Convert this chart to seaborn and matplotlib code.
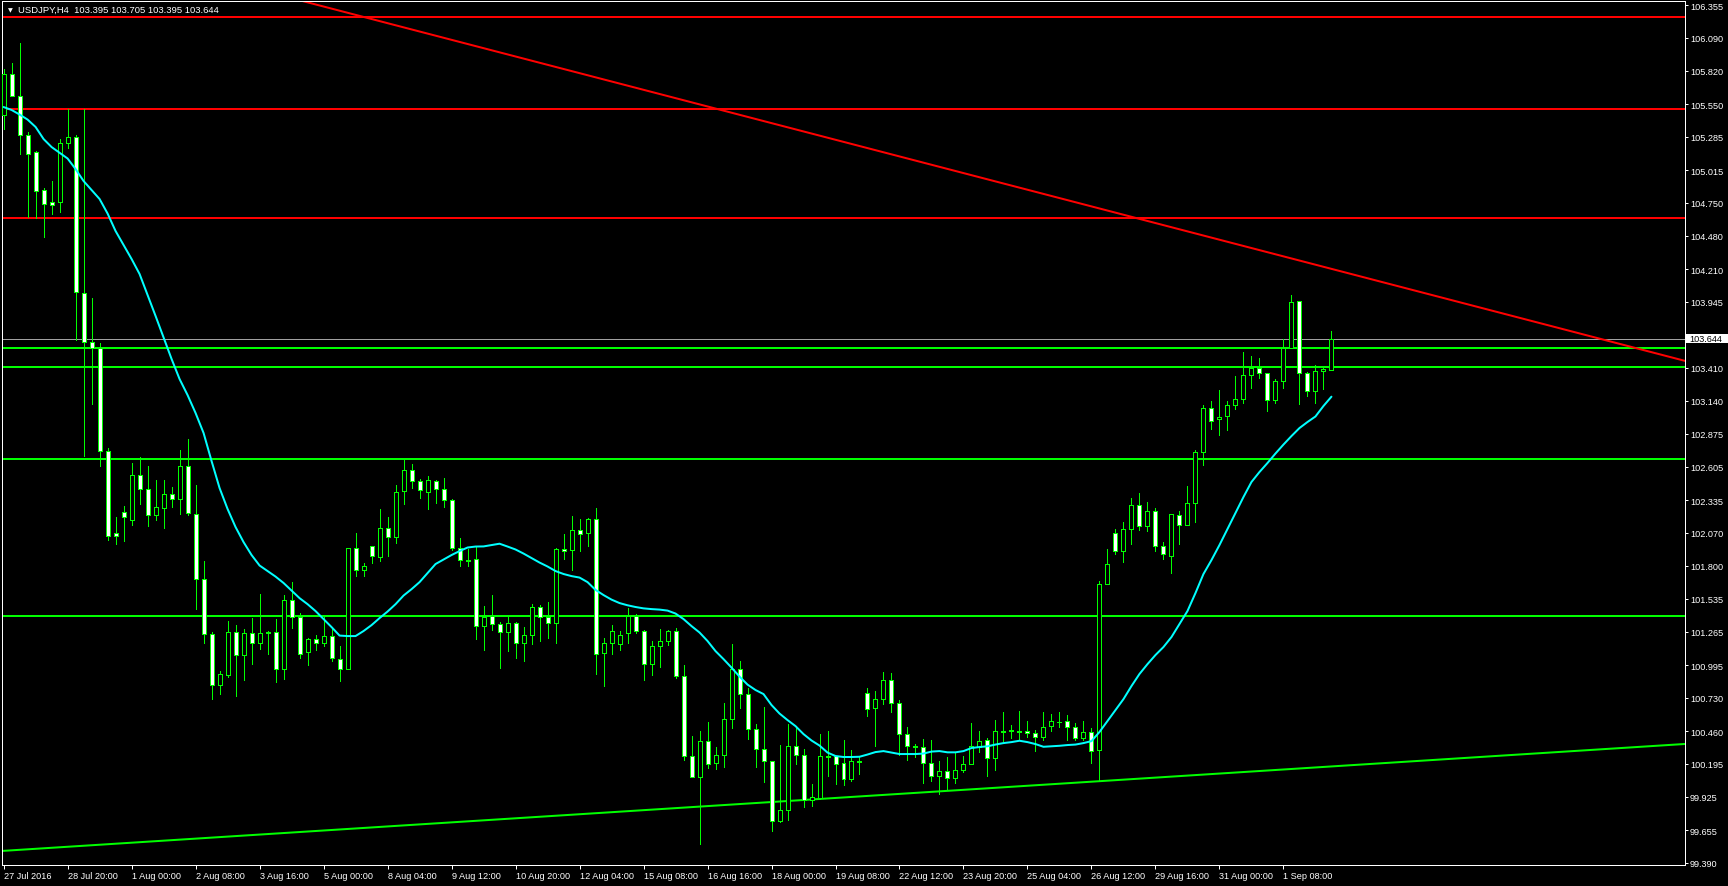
import matplotlib
matplotlib.use("Agg")
import matplotlib.pyplot as plt
import matplotlib.transforms as mtransforms
from matplotlib.patches import Rectangle
import numpy as np
import pandas as pd
import seaborn as sns

# ---------------- data ----------------
symbol = "USDJPY,H4"
last_ohlc = [103.395, 103.705, 103.395, 103.644]

opens = [105.465, 105.793, 105.614, 105.299, 105.160, 104.850, 104.753, 104.758, 105.233, 105.282,
         104.014, 103.616, 103.570, 102.731, 102.065, 102.236, 102.176, 102.536, 102.423, 102.212,
         102.268, 102.382, 102.342, 102.609, 102.220, 101.691, 101.244, 100.835, 100.914, 101.261,
         101.079, 101.253, 101.172, 101.261, 101.261, 100.962, 101.520, 101.382, 101.098, 101.204,
         101.172, 101.228, 101.042, 100.962, 101.943, 101.764, 101.959, 101.870, 102.107, 102.034,
         102.406, 102.577, 102.488, 102.403, 102.488, 102.423, 102.333, 101.948, 101.846, 101.855,
         101.309, 101.390, 101.325, 101.261, 101.334, 101.172, 101.236, 101.463, 101.382, 101.334,
         101.935, 101.927, 102.089, 102.065, 102.179, 101.090, 101.172, 101.164, 101.253, 101.390,
         101.269, 101.001, 101.147, 101.188, 101.269, 100.904, 100.254, 100.083, 100.376, 100.198,
         100.263, 100.555, 100.962, 100.759, 100.474, 100.312, 100.214, 99.726, 99.815, 100.336,
         100.263, 99.901, 99.918, 100.254, 100.254, 100.198, 100.067, 100.211, 100.765, 100.643,
         100.724, 100.871, 100.684, 100.433, 100.336, 100.328, 100.198, 100.092, 100.132, 100.075,
         100.140, 100.189, 100.328, 100.384, 100.238, 100.457, 100.457, 100.457, 100.457, 100.441,
         100.409, 100.498, 100.535, 100.539, 100.490, 100.401, 100.449, 100.302, 101.651, 102.066,
         101.923, 102.104, 102.299, 102.127, 102.245, 101.963, 101.881, 102.212, 102.135, 102.308,
         102.722, 103.079, 102.991, 103.017, 103.104, 103.154, 103.348, 103.406, 103.364, 103.148,
         103.299, 103.573, 103.949, 103.364, 103.225, 103.380, 103.395]

highs = [105.836, 105.884, 106.047, 105.324, 105.170, 104.869, 104.926, 105.268, 105.511, 105.300,
         105.511, 103.976, 103.611, 102.758, 102.198, 102.287, 102.636, 102.682, 102.611, 102.500,
         102.498, 102.441, 102.742, 102.831, 102.458, 101.837, 101.268, 100.949, 101.353, 101.320,
         101.288, 101.377, 101.572, 101.274, 101.369, 101.563, 101.667, 101.415, 101.214, 101.239,
         101.382, 101.304, 101.149, 101.943, 102.068, 101.823, 101.959, 102.263, 102.195, 102.458,
         102.661, 102.628, 102.506, 102.531, 102.496, 102.515, 102.344, 102.027, 101.937, 101.955,
         101.477, 101.563, 101.342, 101.382, 101.347, 101.301, 101.488, 101.480, 101.504, 101.943,
         102.057, 102.203, 102.179, 102.187, 102.268, 101.212, 101.318, 101.269, 101.455, 101.407,
         101.277, 101.188, 101.285, 101.277, 101.293, 100.994, 100.417, 100.457, 100.530, 100.328,
         100.685, 101.164, 101.025, 100.808, 100.515, 100.653, 100.214, 100.344, 100.515, 100.498,
         100.312, 100.026, 100.433, 100.457, 100.254, 100.384, 100.303, 100.254, 100.808, 100.782,
         100.936, 100.930, 100.708, 100.490, 100.352, 100.393, 100.384, 100.214, 100.246, 100.279,
         100.254, 100.523, 100.457, 100.401, 100.547, 100.612, 100.506, 100.620, 100.539, 100.465,
         100.612, 100.595, 100.612, 100.587, 100.523, 100.539, 100.482, 101.679, 101.942, 102.099,
         102.159, 102.352, 102.393, 102.318, 102.269, 101.994, 102.220, 102.245, 102.450, 102.742,
         103.104, 103.136, 103.230, 103.136, 103.340, 103.537, 103.504, 103.488, 103.364, 103.315,
         103.644, 104.000, 103.949, 103.372, 103.430, 103.406, 103.705]

lows = [105.348, 105.624, 105.145, 104.636, 104.622, 104.474, 104.660, 104.677, 105.194, 103.637,
        102.695, 103.115, 102.614, 102.014, 101.975, 102.006, 102.135, 102.306, 102.127, 102.176,
        102.111, 102.281, 102.226, 102.218, 101.450, 101.176, 100.719, 100.762, 100.900, 100.746,
        100.876, 101.003, 101.125, 101.084, 100.860, 100.882, 101.296, 101.049, 100.998, 101.117,
        101.150, 101.025, 100.868, 100.962, 101.721, 101.716, 101.821, 101.837, 101.884, 101.990,
        102.306, 102.431, 102.355, 102.266, 102.314, 102.281, 101.932, 101.796, 101.796, 101.206,
        101.117, 101.277, 100.970, 101.109, 101.049, 101.025, 101.163, 101.188, 101.214, 101.172,
        101.855, 101.770, 101.919, 101.965, 100.920, 100.827, 101.082, 101.117, 101.172, 101.253,
        100.871, 100.917, 100.982, 101.156, 100.887, 100.226, 100.083, 99.539, 100.157, 100.149,
        100.165, 100.482, 100.645, 100.393, 100.165, 100.043, 99.645, 99.718, 99.734, 100.189,
        99.844, 99.853, 99.909, 100.096, 100.033, 100.023, 100.056, 100.115, 100.583, 100.336,
        100.676, 100.611, 100.263, 100.222, 100.246, 100.034, 100.056, 99.945, 99.978, 100.040,
        100.124, 100.189, 100.287, 100.092, 100.145, 100.376, 100.405, 100.384, 100.413, 100.299,
        100.384, 100.457, 100.490, 100.384, 100.384, 100.384, 100.198, 100.061, 101.651, 101.898,
        101.829, 101.982, 102.093, 102.085, 101.921, 101.857, 101.743, 101.982, 102.135, 102.159,
        102.618, 102.915, 102.860, 102.906, 103.076, 103.124, 103.249, 103.329, 103.055, 103.120,
        103.243, 103.573, 103.118, 103.184, 103.126, 103.238, 103.395]

closes = [105.793, 105.614, 105.296, 105.148, 104.849, 104.737, 104.735, 105.233, 105.282, 104.022,
          103.616, 103.570, 102.731, 102.046, 102.046, 102.195, 102.536, 102.423, 102.212, 102.277,
          102.382, 102.342, 102.609, 102.227, 101.691, 101.244, 100.835, 100.920, 101.261, 101.079,
          101.253, 101.172, 101.253, 101.253, 100.962, 101.520, 101.382, 101.087, 101.206, 101.172,
          101.228, 101.050, 100.962, 101.943, 101.764, 101.796, 101.878, 102.109, 102.034, 102.398,
          102.577, 102.488, 102.415, 102.496, 102.423, 102.333, 101.948, 101.846, 101.843, 101.309,
          101.382, 101.325, 101.261, 101.334, 101.172, 101.236, 101.463, 101.382, 101.334, 101.935,
          101.919, 102.089, 102.057, 102.179, 101.082, 101.172, 101.269, 101.236, 101.390, 101.269,
          101.001, 101.147, 101.188, 101.269, 100.904, 100.254, 100.083, 100.376, 100.189, 100.263,
          100.555, 100.962, 100.759, 100.474, 100.312, 100.214, 99.726, 99.815, 100.336, 100.263,
          99.901, 99.926, 100.254, 100.250, 100.195, 100.067, 100.214, 100.214, 100.635, 100.717,
          100.871, 100.684, 100.433, 100.336, 100.333, 100.198, 100.092, 100.132, 100.075, 100.140,
          100.189, 100.336, 100.376, 100.238, 100.457, 100.455, 100.465, 100.455, 100.441, 100.409,
          100.490, 100.539, 100.533, 100.490, 100.401, 100.449, 100.295, 101.651, 101.813, 101.918,
          102.104, 102.299, 102.127, 102.245, 101.963, 101.898, 102.220, 102.135, 102.308, 102.722,
          103.079, 102.975, 103.011, 103.104, 103.154, 103.348, 103.406, 103.364, 103.148, 103.299,
          103.573, 103.940, 103.364, 103.225, 103.380, 103.400, 103.644]

ma_values = [105.527, 105.503, 105.466, 105.425, 105.365, 105.267, 105.202, 105.156, 105.109, 105.023,
             104.926, 104.853, 104.780, 104.662, 104.520, 104.406, 104.293, 104.171, 104.000, 103.830,
             103.655, 103.481, 103.318, 103.188, 103.042, 102.880, 102.652, 102.433, 102.263, 102.116,
             101.994, 101.889, 101.804, 101.759, 101.714, 101.662, 101.601, 101.539, 101.490, 101.434,
             101.369, 101.304, 101.235, 101.231, 101.231, 101.272, 101.320, 101.377, 101.430, 101.490,
             101.560, 101.612, 101.669, 101.743, 101.816, 101.852, 101.889, 101.921, 101.950, 101.958,
             101.959, 101.970, 101.981, 101.958, 101.934, 101.901, 101.865, 101.828, 101.796, 101.759,
             101.735, 101.718, 101.706, 101.669, 101.606, 101.564, 101.527, 101.499, 101.481, 101.467,
             101.456, 101.450, 101.446, 101.438, 101.414, 101.369, 101.312, 101.260, 101.191, 101.109,
             101.044, 100.975, 100.902, 100.837, 100.793, 100.760, 100.671, 100.602, 100.549, 100.500,
             100.435, 100.383, 100.342, 100.285, 100.257, 100.249, 100.249, 100.251, 100.269, 100.289,
             100.297, 100.285, 100.273, 100.273, 100.273, 100.277, 100.293, 100.297, 100.287, 100.287,
             100.297, 100.322, 100.330, 100.336, 100.350, 100.362, 100.370, 100.381, 100.370, 100.354,
             100.332, 100.336, 100.340, 100.346, 100.350, 100.362, 100.378, 100.452, 100.541, 100.630,
             100.719, 100.825, 100.923, 101.003, 101.077, 101.142, 101.223, 101.328, 101.434, 101.580,
             101.735, 101.848, 101.970, 102.100, 102.230, 102.360, 102.482, 102.563, 102.636, 102.713,
             102.786, 102.855, 102.920, 102.969, 103.014, 103.099, 103.175]

x_labels = ["27 Jul 2016", "28 Jul 20:00", "1 Aug 00:00", "2 Aug 08:00", "3 Aug 16:00",
            "5 Aug 00:00", "8 Aug 04:00", "9 Aug 12:00", "10 Aug 20:00", "12 Aug 04:00",
            "15 Aug 08:00", "16 Aug 16:00", "18 Aug 00:00", "19 Aug 08:00", "22 Aug 12:00",
            "23 Aug 20:00", "25 Aug 04:00", "26 Aug 12:00", "29 Aug 16:00", "31 Aug 00:00",
            "1 Sep 08:00"]
x_label_step = 8

y_ticks = [106.355, 106.090, 105.820, 105.550, 105.285, 105.015, 104.750, 104.480, 104.210,
           103.945, 103.675, 103.410, 103.140, 102.875, 102.605, 102.335, 102.070, 101.800,
           101.535, 101.265, 100.995, 100.730, 100.460, 100.195, 99.925, 99.655, 99.390]

red_levels = [106.260, 105.511, 104.628]
green_levels = [103.574, 103.417, 102.669, 101.395]
support_bars = [0, 210]
support_prices = [99.487, 100.354]
resistance_bars = [38, 210]
resistance_prices = [106.377, 103.469]

y_range = [99.372, 106.388]
x_range = [-0.2, 210.2]

# ---------------- style ----------------
sns.set_style("dark", rc={"axes.facecolor": "black", "figure.facecolor": "black"})
plt.rcParams["font.family"] = ["Liberation Sans", "DejaVu Sans"]

W, H = 1728, 887
AX_L, AX_R, AX_T, AX_B = 2, 1685, 2, 866
fig = plt.figure(figsize=(W / 100, H / 100), dpi=100, facecolor="black")
ax = fig.add_axes([AX_L / W, (H - AX_B) / H, (AX_R - AX_L) / W, (AX_B - AX_T) / H])
ax.set_facecolor("black")

LIME = "#00FF00"
PX = 0.72  # one pixel in points

df = pd.DataFrame({"o": opens, "h": highs, "l": lows, "c": closes})
df["i"] = np.arange(len(df))
bear = df["c"] < df["o"]

# wicks
ax.vlines(df["i"], df["l"], df["h"], color=LIME, linewidth=PX, zorder=2, antialiased=False)
# bodies
bottoms = np.minimum(df["o"], df["c"])
heights = np.abs(df["c"] - df["o"])
fills = np.where(bear, "white", "black")
ax.bar(df["i"], heights, bottom=bottoms, width=0.5, color=fills, edgecolor=LIME,
       linewidth=PX, zorder=3, antialiased=False)

# moving average
ma_df = pd.DataFrame({"i": np.arange(len(ma_values)), "ma": ma_values})
sns.lineplot(data=ma_df, x="i", y="ma", ax=ax, color="#00FFFF", linewidth=2 * PX,
             estimator=None, sort=False, legend=False, zorder=4)

# horizontal levels
for lv in red_levels:
    ax.axhline(lv, color="#FF0000", linewidth=2 * PX, zorder=1)
for lv in green_levels:
    ax.axhline(lv, color=LIME, linewidth=2 * PX, zorder=1)
ax.axhline(last_ohlc[3], color="#A0A0A0", linewidth=PX, zorder=1)

# trend lines
ax.axline((support_bars[0], support_prices[0]), (support_bars[1], support_prices[1]),
          color=LIME, linewidth=2 * PX, zorder=1)
ax.axline((resistance_bars[0], resistance_prices[0]), (resistance_bars[1], resistance_prices[1]),
          color="#FF0000", linewidth=2 * PX, zorder=1)

ax.set_xlim(*x_range)
ax.set_ylim(*y_range)
ax.set_xlabel("")
ax.set_ylabel("")
ax.grid(False)

# axes / ticks
for s in ax.spines.values():
    s.set_color("white")
    s.set_linewidth(PX)
    s.set_visible(True)

ax.yaxis.tick_right()
ax.set_yticks(y_ticks)
ax.set_yticklabels([f"{v:.3f}" for v in y_ticks])
ax.tick_params(axis="y", which="both", left=False, right=True, direction="out",
               length=3 * PX, width=PX, color="white", labelcolor="white",
               labelsize=6.6, pad=2 * PX)

xt = list(range(0, len(x_labels) * x_label_step, x_label_step))
ax.set_xticks(xt)
ax.set_xticklabels(x_labels)
for t in ax.get_xticklabels():
    t.set_horizontalalignment("left")
ax.tick_params(axis="x", which="both", bottom=True, top=False, direction="out",
               length=4 * PX, width=PX, color="white", labelcolor="white",
               labelsize=6.6, pad=2 * PX)

# current price label box on the right scale (covers the scale up to the figure edge)
trans = mtransforms.blended_transform_factory(ax.transAxes, ax.transData)
ax_w_px = AX_R - AX_L
px_price = (y_range[1] - y_range[0]) / (AX_B - AX_T)
box = Rectangle((1.0 + 1.0 / ax_w_px, last_ohlc[3] - 4.5 * px_price),
                (W - AX_R - 1) / ax_w_px, 9 * px_price,
                transform=trans, facecolor="white", edgecolor="none",
                clip_on=False, zorder=9)
ax.add_patch(box)
ax.text(1.0 + 4.0 / ax_w_px, last_ohlc[3], f"{last_ohlc[3]:.3f}", transform=trans,
        ha="left", va="center", fontsize=6.6, color="black", clip_on=False, zorder=10)

# header
fig.text(10 / W, 1 - 10.5 / H, "\u25BC", family=["DejaVu Sans"], fontsize=4.5,
         color="white", ha="center", va="center")
fig.text(18 / W, 1 - 10.7 / H,
         f"{symbol}  " + " ".join(f"{v:.3f}" for v in last_ohlc),
         fontsize=6.8, color="white", ha="left", va="center")

fig.savefig("out.png", dpi=100, facecolor="black")
